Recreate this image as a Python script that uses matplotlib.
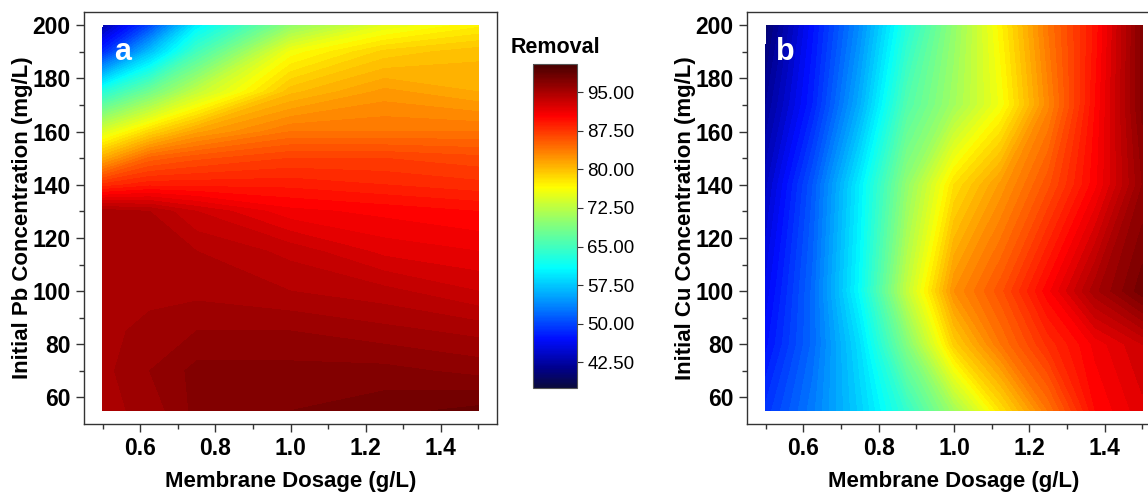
import numpy as np
import matplotlib
matplotlib.use("Agg")
import matplotlib.pyplot as plt
from matplotlib.colors import LinearSegmentedColormap, Normalize
from matplotlib.ticker import FixedLocator
import matplotlib.cm as cm

plt.rcParams['font.family'] = ['Liberation Sans', 'DejaVu Sans']

# ---------------- data ----------------
# Panel a: Pb removal (%) ; rows = concentration, cols = dosage
dose_a = [0.5, 0.625, 0.75, 1.0, 1.25, 1.5]
conc_a = [55, 70, 85, 100, 115, 130, 140, 150, 160, 175, 190, 200]
removal_a = [
    [95.0, 95.5, 97.0, 97.5, 98.0, 98.5],   # 55
    [95.0, 96.0, 97.0, 97.0, 97.0, 96.5],   # 70
    [95.0, 95.5, 96.0, 96.0, 95.5, 95.0],   # 85
    [95.0, 95.0, 95.0, 94.5, 94.0, 93.0],   # 100
    [95.0, 95.0, 94.5, 93.5, 92.0, 91.5],   # 115
    [95.0, 94.5, 93.0, 91.0, 90.5, 90.0],   # 130
    [88.0, 89.0, 89.0, 89.0, 88.5, 88.0],   # 140
    [81.0, 85.0, 86.0, 87.0, 87.0, 86.5],   # 150
    [74.5, 78.5, 81.5, 84.0, 84.0, 84.0],   # 160
    [63.0, 68.0, 73.0, 80.0, 82.0, 81.0],   # 175
    [48.5, 57.0, 65.0, 76.0, 79.0, 80.0],   # 190
    [43.0, 50.0, 60.0, 70.0, 75.0, 77.0],   # 200
]

# Panel b: Cu removal (%)
dose_b = [0.5, 0.625, 0.75, 0.875, 1.0, 1.125, 1.25, 1.375, 1.5]
conc_b = [55, 80, 100, 140, 170, 200]
removal_b = [
    [49, 53, 58, 64, 71, 78, 84, 90, 92],        # 55
    [47, 52, 59, 69, 79, 84, 88, 91, 93],        # 80
    [46, 52, 61, 73, 82.5, 86, 90.5, 95, 98],    # 100
    [44, 51, 60, 70, 78, 82, 86, 90.5, 96],      # 140
    [42, 48, 56, 66, 71, 76, 83, 90, 97],        # 170
    [40, 47, 54, 63, 70, 77, 84, 89.5, 97],      # 200
]

cbar_ticks = [42.5, 50.0, 57.5, 65.0, 72.5, 80.0, 87.5, 95.0]
vmin, vmax = 37.5, 100.5

# ---------------- style ----------------
cmap = LinearSegmentedColormap.from_list("origin_jet", [
    (0.00, (0.04, 0.04, 0.24)),
    (0.06, (0.0, 0.0, 0.55)),
    (0.15, (0.0, 0.05, 1.0)),
    (0.26, (0.0, 0.55, 1.0)),
    (0.37, (0.0, 1.0, 1.0)),
    (0.50, (0.5, 1.0, 0.5)),
    (0.62, (1.0, 1.0, 0.0)),
    (0.73, (1.0, 0.5, 0.0)),
    (0.84, (1.0, 0.0, 0.0)),
    (1.00, (0.28, 0.0, 0.0)),
])
norm = Normalize(vmin=vmin, vmax=vmax)
levels = np.arange(vmin, vmax + 0.01, 0.75)

fig = plt.figure(figsize=(11.48, 4.96), dpi=100)

ax_a = fig.add_axes([84 / 1148, 72 / 496, 413 / 1148, 412 / 496])
ax_b = fig.add_axes([747 / 1148, 72 / 496, 414 / 1148, 412 / 496])
cax = fig.add_axes([533 / 1148, 108 / 496, 44 / 1148, 324 / 496])


def draw(ax, dose, conc, vals, ylabel, letter):
    X, Y = np.meshgrid(dose, conc)
    Z = np.array(vals, dtype=float)
    ax.contourf(X, Y, Z, levels=levels, cmap=cmap, norm=norm, extend='both')
    ax.set_xlim(0.45, 1.55)
    ax.set_ylim(50, 205)
    ax.xaxis.set_major_locator(FixedLocator([0.6, 0.8, 1.0, 1.2, 1.4]))
    ax.xaxis.set_minor_locator(FixedLocator([0.5, 0.7, 0.9, 1.1, 1.3, 1.5]))
    ax.yaxis.set_major_locator(FixedLocator([60, 80, 100, 120, 140, 160, 180, 200]))
    ax.yaxis.set_minor_locator(FixedLocator([70, 90, 110, 130, 150, 170, 190]))
    ax.tick_params(which='major', direction='out', length=6, width=1.0,
                   labelsize=16.5, top=False, right=False, color='#333333')
    ax.tick_params(which='minor', direction='out', length=3.5, width=1.0,
                   top=False, right=False, color='#333333')
    ax.set_xticklabels(['0.6', '0.8', '1.0', '1.2', '1.4'])
    ax.set_yticklabels(['60', '80', '100', '120', '140', '160', '180', '200'])
    for lab in ax.get_xticklabels() + ax.get_yticklabels():
        lab.set_fontweight('bold')
    ax.set_xlabel('Membrane Dosage (g/L)', fontsize=16, fontweight='bold', labelpad=8)
    ax.set_ylabel(ylabel, fontsize=16, fontweight='bold', labelpad=0)
    for s in ax.spines.values():
        s.set_color('#333333')
        s.set_linewidth(1.0)
    ax.text(0.553, 190, letter, color='white', fontsize=22, fontweight='bold',
            ha='center', va='center')


draw(ax_a, dose_a, conc_a, removal_a, 'Initial Pb Concentration (mg/L)', 'a')
draw(ax_b, dose_b, conc_b, removal_b, 'Initial Cu Concentration (mg/L)', 'b')

sm = cm.ScalarMappable(norm=norm, cmap=cmap)
cb = fig.colorbar(sm, cax=cax, ticks=cbar_ticks, format='%.2f')
cb.outline.set_linewidth(0.8)
cb.outline.set_edgecolor('#555555')
cax.tick_params(length=4, width=0.8, labelsize=13.5, color='#333333')
cax.set_title('Removal', fontsize=15.5, fontweight='bold', pad=8)

fig.savefig('out.png', dpi=100)
